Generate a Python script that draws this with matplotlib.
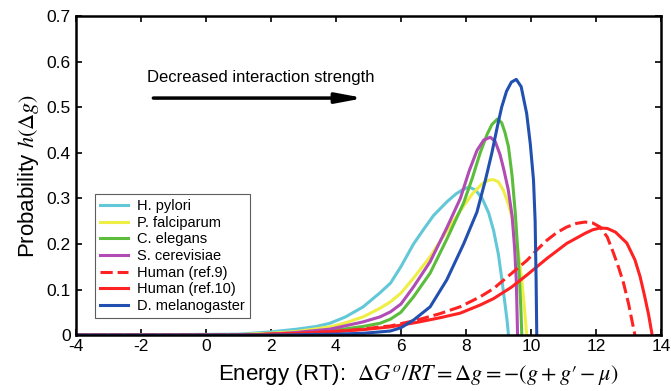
import numpy as np
import matplotlib
matplotlib.use('Agg')
import matplotlib.pyplot as plt

plt.rcParams['font.family'] = ['Liberation Sans', 'DejaVu Sans']
plt.rcParams['mathtext.fontset'] = 'stix'
plt.rcParams['axes.unicode_minus'] = False

# curves (energy, probability)
hp_x = [-4, 1.0, 2.0, 2.8, 3.4, 3.82, 4.3, 4.84, 5.36, 5.68, 6.0, 6.39, 6.7, 7.0, 7.41, 7.7, 7.9, 8.1,
        8.3, 8.5, 8.7, 8.85, 9.0, 9.11, 9.2, 9.27, 9.31]
hp_y = [0, 0.002, 0.007, 0.013, 0.019, 0.026, 0.040, 0.062, 0.093, 0.114, 0.150, 0.200, 0.232, 0.262, 0.292,
        0.310, 0.319, 0.325, 0.318, 0.300, 0.268, 0.230, 0.177, 0.120, 0.070, 0.030, 0.0]

pf_x = [-4, 1.0, 2.0, 2.8, 3.82, 4.3, 4.84, 5.36, 5.68, 6.0, 6.39, 6.9, 7.41, 7.88, 8.2, 8.5, 8.7, 8.85,
        9.0, 9.15, 9.3, 9.45, 9.55, 9.65, 9.72, 9.8, 9.87]
pf_y = [0, 0.001, 0.004, 0.008, 0.018, 0.027, 0.040, 0.059, 0.073, 0.092, 0.125, 0.172, 0.228, 0.278, 0.310,
        0.332, 0.340, 0.341, 0.336, 0.318, 0.289, 0.250, 0.215, 0.160, 0.120, 0.060, 0.0]

ce_x = [-4, 1.0, 2.0, 2.8, 3.82, 4.84, 5.36, 5.68, 6.0, 6.39, 6.9, 7.41, 7.93, 8.2, 8.44, 8.65, 8.8, 8.97,
        9.1, 9.2, 9.31, 9.42, 9.52, 9.6, 9.65, 9.69, 9.72]
ce_y = [0, 0.0, 0.002, 0.004, 0.009, 0.019, 0.026, 0.035, 0.050, 0.084, 0.136, 0.210, 0.290, 0.345, 0.400,
        0.440, 0.462, 0.474, 0.466, 0.445, 0.413, 0.350, 0.267, 0.180, 0.120, 0.060, 0.0]

sc_x = [-4, 1.0, 2.0, 2.8, 3.82, 4.84, 5.36, 5.68, 6.0, 6.39, 6.9, 7.41, 7.83, 8.1, 8.34, 8.55, 8.75, 8.9,
        9.05, 9.16, 9.3, 9.42, 9.5, 9.55, 9.57, 9.59]
sc_y = [0, 0.0, 0.002, 0.006, 0.013, 0.029, 0.040, 0.051, 0.068, 0.106, 0.161, 0.235, 0.300, 0.360, 0.405,
        0.428, 0.434, 0.425, 0.396, 0.365, 0.320, 0.262, 0.190, 0.120, 0.060, 0.0]

h9_x = [-4, 1.0, 2.0, 3.0, 4.0, 4.84, 5.36, 5.68, 6.5, 7.2, 7.82, 8.44, 8.85, 9.4, 9.88, 10.2, 10.49, 10.8,
        11.1, 11.4, 11.66, 11.9, 12.13, 12.35, 12.54, 12.7, 12.85, 13.0, 13.1, 13.2]
h9_y = [0, 0.0, 0.002, 0.004, 0.008, 0.013, 0.018, 0.020, 0.033, 0.047, 0.062, 0.084, 0.102, 0.135, 0.164,
        0.188, 0.208, 0.225, 0.237, 0.245, 0.248, 0.246, 0.237, 0.215, 0.180, 0.148, 0.114, 0.070, 0.035, 0.0]

h10_x = [-4, 1.0, 2.0, 3.0, 4.0, 4.84, 5.68, 6.5, 7.2, 7.82, 8.44, 8.85, 9.4, 9.88, 10.49, 11.1, 11.66, 11.9,
         12.13, 12.35, 12.6, 12.95, 13.2, 13.36, 13.5, 13.62, 13.73]
h10_y = [0, 0.0, 0.002, 0.004, 0.008, 0.012, 0.018, 0.028, 0.038, 0.048, 0.066, 0.080, 0.105, 0.132, 0.168,
         0.201, 0.223, 0.231, 0.235, 0.234, 0.226, 0.202, 0.165, 0.128, 0.085, 0.045, 0.0]

dm_x = [-4, 2.0, 3.0, 4.0, 4.84, 5.36, 5.68, 6.0, 6.39, 6.9, 7.41, 7.93, 8.34, 8.6, 8.8, 8.96, 9.1, 9.25,
        9.4, 9.55, 9.7, 9.87, 9.98, 10.08, 10.13, 10.16, 10.18]
dm_y = [0, 0.0, 0.001, 0.002, 0.004, 0.007, 0.009, 0.016, 0.033, 0.062, 0.121, 0.200, 0.270, 0.340, 0.400,
        0.455, 0.500, 0.535, 0.555, 0.561, 0.545, 0.486, 0.420, 0.340, 0.250, 0.120, 0.0]

series = [
    ('H. pylori', hp_x, hp_y, '#62c8d8', '-'),
    ('P. falciparum', pf_x, pf_y, '#eeee44', '-'),
    ('C. elegans', ce_x, ce_y, '#5cbc3c', '-'),
    ('S. cerevisiae', sc_x, sc_y, '#b04cb4', '-'),
    ('Human (ref.9)', h9_x, h9_y, '#ff2222', (0, (4, 1.6))),
    ('Human (ref.10)', h10_x, h10_y, '#ff2222', '-'),
    ('D. melanogaster', dm_x, dm_y, '#2250b0', '-'),
]

fig = plt.figure(figsize=(6.71, 3.91), dpi=100)
ax = fig.add_axes([0.113, 0.143, 0.872, 0.816])

for name, xs, ys, col, ls in series:
    ax.plot(xs, ys, color=col, linestyle=ls, lw=2.2, label=name)

ax.set_xlim(-4, 14)
ax.set_ylim(0, 0.7)
ax.set_xticks(np.arange(-4, 15, 2))
ax.set_yticks(np.arange(0, 0.71, 0.1))
ax.set_yticklabels(['0', '0.1', '0.2', '0.3', '0.4', '0.5', '0.6', '0.7'])
ax.tick_params(axis='both', direction='in', labelsize=12.5, top=True, right=True, width=1.2, length=4)
ax.tick_params(axis='x', pad=3)
for s in ax.spines.values():
    s.set_linewidth(1.8)

ax.set_ylabel(r'Probability $h(\Delta g)$', fontsize=16, labelpad=4)
ax.set_xlabel(r"Energy (RT):  $\Delta G^o/RT = \Delta g = -(g + g\prime - \mu)$", fontsize=16)
ax.xaxis.set_label_coords(0.585, -0.085)

ax.annotate('', xy=(4.95, 0.52), xytext=(-1.7, 0.52),
            arrowprops=dict(arrowstyle='-|>,head_length=1.6,head_width=0.3', color='black', lw=2.5))
ax.text(-1.8, 0.566, 'Decreased interaction strength', fontsize=12, va='center', ha='left')

leg = ax.legend(loc='upper left', bbox_to_anchor=(0.033, 0.442), borderaxespad=0, fontsize=10.5,
                frameon=True, fancybox=False, edgecolor='#333333', handlelength=1.9,
                labelspacing=0.18, borderpad=0.35, handletextpad=0.6)
leg.get_frame().set_linewidth(0.8)

plt.savefig('out.png', dpi=100)
